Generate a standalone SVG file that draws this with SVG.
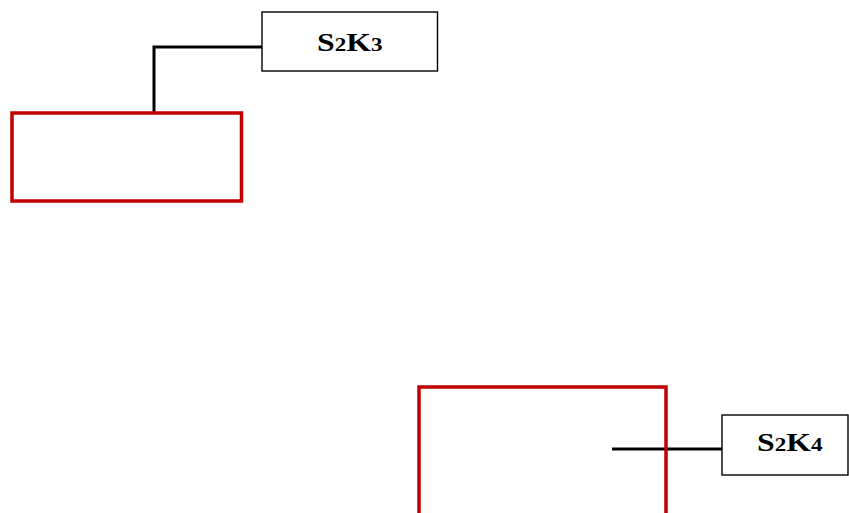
<svg xmlns="http://www.w3.org/2000/svg" width="849" height="513" viewBox="0 0 849 513">
  <style>
    .label-box { fill: #ffffff; stroke: #000000; stroke-width: 1.4; }
    .group-box { fill: none; stroke: #c00000; stroke-width: 3.5; }
    .link { fill: none; stroke: #000000; stroke-width: 3; }
    .label { font-family: "Liberation Serif", "Times New Roman", serif; font-weight: bold; font-size: 26px; fill: #000000; }
    .sub { font-size: 19px; }
  </style>
  <rect width="849" height="513" fill="#ffffff"/>

  <g id="connectors">
    <polyline class="link" points="262,47 154,47 154,113"/>
    <line class="link" x1="612" y1="449" x2="722" y2="449"/>
  </g>

  <g id="group-top">
    <rect class="group-box" x="12" y="113" width="229.5" height="88"/>
  </g>

  <g id="group-bottom">
    <rect class="group-box" x="419" y="387" width="247" height="200"/>
  </g>

  <g id="node-s2k3">
    <rect class="label-box" x="262" y="12" width="175.5" height="59"/>
    <text class="label" transform="translate(317,51) scale(1.22,1)">S<tspan class="sub">2</tspan>K<tspan class="sub">3</tspan></text>
  </g>

  <g id="node-s2k4">
    <rect class="label-box" x="722" y="415" width="126" height="60"/>
    <text class="label" transform="translate(757,451) scale(1.22,1)">S<tspan class="sub">2</tspan>K<tspan class="sub">4</tspan></text>
  </g>
</svg>
